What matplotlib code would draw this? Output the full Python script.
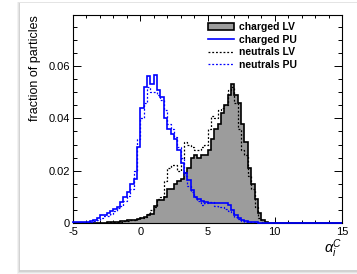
import numpy as np
import matplotlib
matplotlib.use('Agg')
import matplotlib.pyplot as plt
from matplotlib.patches import Patch, Rectangle
from matplotlib.lines import Line2D

plt.rcParams['font.family'] = ['Liberation Sans', 'DejaVu Sans']
plt.rcParams['mathtext.fontset'] = 'custom'
plt.rcParams['mathtext.rm'] = 'Liberation Sans'
plt.rcParams['mathtext.it'] = 'Liberation Sans:italic'
plt.rcParams['axes.unicode_minus'] = False

# bin edges: -5 .. 15 in steps of 0.25 (80 bins)
edges = np.linspace(-5, 15, 81)

# values, 8 bins (2 units) per row
charged_lv = [
    0, 0, 0, 0, 0, 0, 0, 0,
    0.0001, 0.0001, 0.0002, 0.0003, 0.0004, 0.0005, 0.0006, 0.0008,
    0.001, 0.0011, 0.0012, 0.0015, 0.002, 0.0022, 0.003, 0.0035,
    0.0065, 0.0088, 0.0088, 0.010, 0.013, 0.013, 0.015, 0.016,
    0.017, 0.019, 0.021, 0.025, 0.026, 0.025, 0.026, 0.026,
    0.028, 0.032, 0.036, 0.038, 0.042, 0.045, 0.049, 0.053,
    0.049, 0.046, 0.038, 0.031, 0.021, 0.015, 0.009, 0.004,
    0.001, 0.0002, 0, 0, 0, 0, 0, 0,
    0, 0, 0, 0, 0, 0, 0, 0,
    0, 0, 0, 0, 0, 0, 0, 0,
]
charged_pu = [
    0.0002, 0.0002, 0.0003, 0.0004, 0.0005, 0.0008, 0.0012, 0.002,
    0.003, 0.0032, 0.004, 0.0045, 0.0055, 0.006, 0.008, 0.010,
    0.012, 0.015, 0.017, 0.029, 0.044, 0.052, 0.056, 0.053,
    0.0566, 0.051, 0.048, 0.040, 0.036, 0.034, 0.032, 0.028,
    0.023, 0.019, 0.0165, 0.0125, 0.010, 0.009, 0.0085, 0.008,
    0.0077, 0.0077, 0.0076, 0.0075, 0.0075, 0.0078, 0.007, 0.005,
    0.003, 0.0018, 0.001, 0.0007, 0.0004, 0.0003, 0.0002, 0.0001,
    0, 0, 0, 0, 0, 0, 0, 0,
    0, 0, 0, 0, 0, 0, 0, 0,
    0, 0, 0, 0, 0, 0, 0, 0,
]
neutrals_lv = [
    0, 0, 0, 0, 0, 0, 0, 0,
    0.0001, 0.0001, 0.0002, 0.0002, 0.0003, 0.0004, 0.0005, 0.0007,
    0.0009, 0.001, 0.0012, 0.0014, 0.0018, 0.0022, 0.0035, 0.005,
    0.006, 0.009, 0.010, 0.016, 0.021, 0.022, 0.022, 0.020,
    0.025, 0.031, 0.030, 0.029, 0.028, 0.028, 0.029, 0.030,
    0.036, 0.041, 0.040, 0.043, 0.044, 0.045, 0.051, 0.052,
    0.046, 0.036, 0.028, 0.026, 0.018, 0.013, 0.006, 0.002,
    0.0005, 0, 0, 0, 0, 0, 0, 0,
    0, 0, 0, 0, 0, 0, 0, 0,
    0, 0, 0, 0, 0, 0, 0, 0,
]
neutrals_pu = [
    0.0001, 0.0001, 0.0002, 0.0002, 0.0003, 0.0005, 0.0008, 0.0012,
    0.002, 0.0025, 0.0028, 0.0035, 0.0045, 0.0058, 0.0065, 0.0085,
    0.0105, 0.013, 0.020, 0.032, 0.040, 0.046, 0.052, 0.050,
    0.050, 0.049, 0.047, 0.043, 0.038, 0.036, 0.033, 0.029,
    0.025, 0.018, 0.014, 0.012, 0.010, 0.0085, 0.007, 0.0075,
    0.008, 0.008, 0.0065, 0.006, 0.006, 0.0055, 0.0045, 0.0038,
    0.0022, 0.0015, 0.0008, 0.0005, 0.0003, 0.0002, 0.0001, 0,
    0, 0, 0, 0, 0, 0, 0, 0,
    0, 0, 0, 0, 0, 0, 0, 0,
    0, 0, 0, 0, 0, 0, 0, 0,
]

labels = ['charged LV', 'charged PU', 'neutrals LV', 'neutrals PU']
xticks = [-5, 0, 5, 10, 15]
yticks = [0, 0.02, 0.04, 0.06]
ytick_labels = ['0', '0.02', '0.04', '0.06']

gray = '#9c9c9c'
dots = (0, (1.5, 1.5))

W, H = 357, 274
fig = plt.figure(figsize=(W / 100, H / 100), dpi=100)
fig.patch.set_facecolor('white')

# card with a soft shadow, kept behind the axes
def px_rect(x0, y0, x1, y1, **kw):
    return Rectangle((x0 / W, 1 - y1 / H), (x1 - x0) / W, (y1 - y0) / H,
                     transform=fig.transFigure, figure=fig, zorder=-10, **kw)

for k, c in enumerate(['#f2f2f2', '#e4e4e4', '#d2d2d2']):
    d = 3 - k
    fig.patches.append(px_rect(20 - d, 3 - d * 0.5, W + 5, 270 + d + 1, facecolor=c, edgecolor='none'))
fig.patches.append(px_rect(20, 3, W + 5, 270, facecolor='white', edgecolor='none'))

ax = fig.add_axes([73 / W, 1 - 223 / H, (342 - 73) / W, (223 - 15) / H])
ax.set_zorder(5)
ax.set_facecolor('none')

ax.stairs(charged_lv, edges, fill=True, color=gray, zorder=2)
ax.stairs(charged_lv, edges, color='black', lw=1.2, zorder=3)
ax.stairs(neutrals_lv, edges, color='black', lw=0.9, ls=dots, zorder=3)
ax.stairs(neutrals_pu, edges, color='blue', lw=0.9, ls=dots, zorder=3)
ax.stairs(charged_pu, edges, color='blue', lw=1.2, zorder=4, clip_on=False)

ax.set_xlim(-5, 15)
ax.set_ylim(0, 0.0795)
ax.set_xticks(xticks)
ax.set_xticks(np.arange(-5, 15.1, 1), minor=True)
ax.set_yticks(yticks, ytick_labels)
ax.set_yticks(np.arange(0, 0.079, 0.005), minor=True)

for s in ax.spines.values():
    s.set_linewidth(0.8)
ax.tick_params(axis='both', which='both', direction='in', top=True, right=True, width=0.7, labelsize=8)
ax.tick_params(axis='y', which='major', length=6, pad=2)
ax.tick_params(axis='y', which='minor', length=3)
ax.tick_params(axis='x', which='major', length=4.5, pad=3)
ax.tick_params(axis='x', which='minor', length=2.4)

ax.set_ylabel('fraction of particles', loc='top', fontsize=9)
ax.yaxis.set_label_coords(-0.12, 1.0)
ax.set_xlabel(r'$\alpha_{i}^{C}$', loc='right', fontsize=10.5)
ax.xaxis.set_label_coords(1.0, -0.07)

handles = [
    Patch(facecolor=gray, edgecolor='black', lw=1.2),
    Line2D([], [], color='blue', lw=1.2),
    Line2D([], [], color='black', lw=0.9, ls=dots),
    Line2D([], [], color='blue', lw=0.9, ls=dots),
]
ax.legend(handles, labels, loc='upper left', bbox_to_anchor=(0.50, 0.965),
          frameon=False, prop={'size': 7.5, 'weight': 'bold'}, handlelength=2.5,
          handletextpad=0.5, labelspacing=0.25, borderpad=0, borderaxespad=0)

fig.savefig('out.png', dpi=100)
